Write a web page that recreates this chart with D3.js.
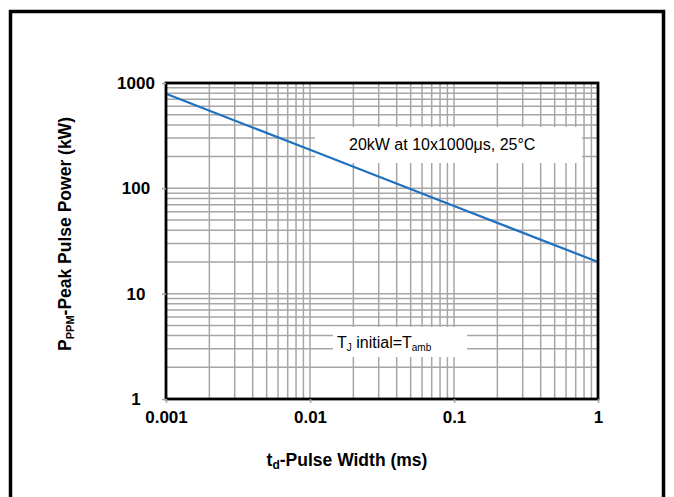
<!DOCTYPE html>
<html>
<head>
	<meta charset="utf-8">
	<title>Peak Pulse Power vs Pulse Width</title>
	<script src="https://cdnjs.cloudflare.com/ajax/libs/d3/7.8.5/d3.min.js"></script>
	<style>
		body { margin: 0; background: #fff; }
		svg text { font-family: "Liberation Sans", Arial, sans-serif; }
	</style>
</head>
<body>
	<svg id="svg" width="674" height="497"></svg>
	<script>
	// pulse width (ms) and peak pulse power (kW)
	const pulseWidth = [0.001, 0.01, 0.1, 1]
	const peakPower = [790, 232, 68, 20]

	const xTicks = [0.001, 0.01, 0.1, 1]
	const xTickLabels = ['0.001', '0.01', '0.1', '1']
	const yTicks = [1, 10, 100, 1000]
	const yTickLabels = ['1', '10', '100', '1000']

	const plot = {left: 166, top: 83, width: 432, height: 316}
	const svg = d3.select('#svg')

	// outer frame (bottom edge runs off the picture)
	svg.append('rect')
		.attr('x', 10.5).attr('y', 11.5)
		.attr('width', 653).attr('height', 500)
		.attr('fill', 'none')
		.attr('stroke', '#000')
		.attr('stroke-width', 3.5)

	const x = d3.scaleLog().domain([0.001, 1]).range([0, plot.width])
	const y = d3.scaleLog().domain([1, 1000]).range([plot.height, 0])

	const g = svg.append('g').attr('transform', `translate(${plot.left},${plot.top})`)

	// every 1..9 of each decade gets a grid line
	const minorX = []
	const minorY = []
	for (let d = 0.001; d < 1; d *= 10) {
		for (let k = 1; k <= 9; k++) minorX.push(+(d * k).toPrecision(3))
	}
	for (let d = 1; d < 1000; d *= 10) {
		for (let k = 1; k <= 9; k++) minorY.push(d * k)
	}

	g.selectAll('.vgrid')
		.data(minorX)
		.enter()
		.append('line')
		.attr('class', 'vgrid')
		.attr('x1', d => x(d)).attr('x2', d => x(d))
		.attr('y1', 0).attr('y2', plot.height)
		.attr('stroke', '#a6a6a6')
		.attr('stroke-width', 1.5)

	g.selectAll('.hgrid')
		.data(minorY)
		.enter()
		.append('line')
		.attr('class', 'hgrid')
		.attr('x1', 0).attr('x2', plot.width)
		.attr('y1', d => y(d)).attr('y2', d => y(d))
		.attr('stroke', '#a6a6a6')
		.attr('stroke-width', 1.5)

	// white boxes behind the notes
	g.append('rect')
		.attr('x', 315 - plot.left).attr('y', 127 - plot.top)
		.attr('width', 267).attr('height', 36)
		.attr('fill', '#fff')
	g.append('rect')
		.attr('x', 333 - plot.left).attr('y', 327 - plot.top)
		.attr('width', 134).attr('height', 30)
		.attr('fill', '#fff')

	// the curve
	const line = d3.line()
		.x(d => x(d[0]))
		.y(d => y(d[1]))
	g.append('path')
		.datum(pulseWidth.map((d, i) => [d, peakPower[i]]))
		.attr('d', line)
		.attr('fill', 'none')
		.attr('stroke', '#1f70c1')
		.attr('stroke-width', 2.2)

	// notes
	g.append('text')
		.attr('x', 349 - plot.left).attr('y', 150 - plot.top)
		.attr('font-size', 16)
		.attr('fill', '#000')
		.text('20kW at 10x1000μs, 25°C')

	const tj = g.append('text')
		.attr('x', 337 - plot.left).attr('y', 348 - plot.top)
		.attr('font-size', 16)
		.attr('fill', '#000')
	tj.append('tspan').text('T')
	tj.append('tspan').attr('font-size', 10).attr('dy', 3).text('J')
	tj.append('tspan').attr('dy', -3).text(' initial=T')
	tj.append('tspan').attr('font-size', 10).attr('dy', 3).text('amb')

	// plot border
	g.append('rect')
		.attr('x', 0).attr('y', 0)
		.attr('width', plot.width).attr('height', plot.height)
		.attr('fill', 'none')
		.attr('stroke', '#000')
		.attr('stroke-width', 2.8)

	// axes: short outer ticks and bold labels
	const xAxis = d3.axisBottom(x)
		.tickValues(xTicks)
		.tickFormat((d, i) => xTickLabels[i])
		.tickSize(4)
		.tickPadding(8)
	const yAxis = d3.axisLeft(y)
		.tickValues(yTicks)
		.tickFormat((d, i) => yTickLabels[i])
		.tickSize(4)
		.tickPadding(0)

	const gx = g.append('g')
		.attr('transform', `translate(0,${plot.height})`)
		.call(xAxis)
	const gy = g.append('g').call(yAxis)

	;[gx, gy].forEach(a => {
		a.select('.domain').remove()
		a.selectAll('.tick line').attr('stroke', '#a6a6a6').attr('stroke-width', 1.5)
		a.selectAll('text')
			.attr('font-family', '"Liberation Sans", Arial, sans-serif')
			.attr('font-size', 17)
			.attr('font-weight', 'bold')
			.attr('fill', '#000')
	})
	// y labels sit centred in a column left of the axis
	gy.selectAll('text')
		.attr('text-anchor', 'middle')
		.attr('x', 136 - plot.left)

	// axis titles
	const xt = svg.append('text')
		.attr('x', 347).attr('y', 466)
		.attr('text-anchor', 'middle')
		.attr('font-size', 17.5)
		.attr('font-weight', 'bold')
	xt.append('tspan').text('t')
	xt.append('tspan').attr('font-size', 12).attr('dy', 3).text('d')
	xt.append('tspan').attr('dy', -3).text('-Pulse Width (ms)')

	const yt = svg.append('text')
		.attr('transform', 'translate(71,234) rotate(-90)')
		.attr('text-anchor', 'middle')
		.attr('font-size', 17.5)
		.attr('font-weight', 'bold')
	yt.append('tspan').text('P')
	yt.append('tspan').attr('font-size', 11).attr('dy', 3).text('PPM')
	yt.append('tspan').attr('dy', -3).text('-Peak Pulse Power (kW)')
	</script>
</body>
</html>
